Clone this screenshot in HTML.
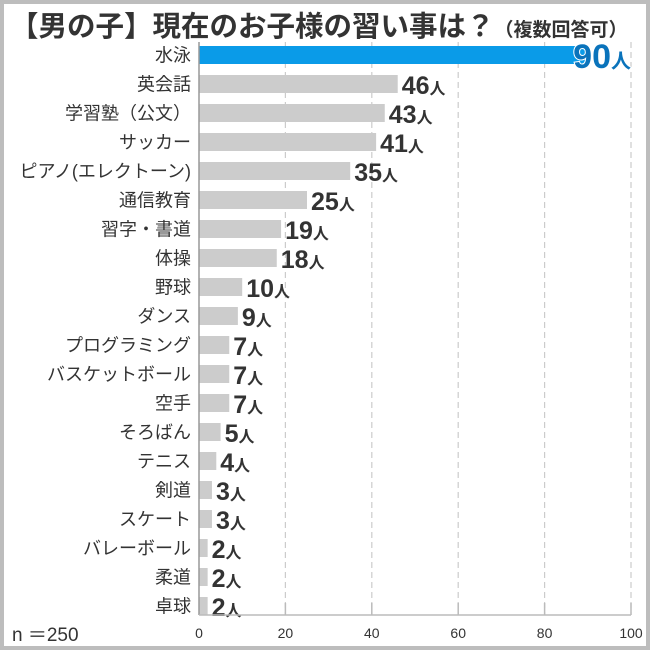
<!DOCTYPE html>
<html><head><meta charset="utf-8"><style>
body{margin:0;background:#fff;}
#wrap{position:relative;width:650px;height:650px;box-sizing:border-box;border:4px solid #bdbdbd;background:#fff;font-family:"Liberation Sans","Noto Sans CJK JP",sans-serif;overflow:hidden;}
#title{position:absolute;left:6px;top:0px;font-size:28.5px;font-weight:bold;color:#333;white-space:nowrap;letter-spacing:0px}
#title small{font-size:19px}
#n{position:absolute;left:8px;top:616px;font-size:19px;color:#333}
</style></head><body>
<div id="wrap">
<div id="title">【男の子】現在のお子様の習い事は？<small>（複数回答可）</small></div>
<svg id="chart" width="642" height="642" style="position:absolute;left:0;top:0"></svg>
<div id="n">n ＝250</div>
</div>
<script>
const categories=["水泳","英会話","学習塾（公文）","サッカー","ピアノ(エレクトーン)","通信教育","習字・書道","体操","野球","ダンス","プログラミング","バスケットボール","空手","そろばん","テニス","剣道","スケート","バレーボール","柔道","卓球"];
const values=[90,46,43,41,35,25,19,18,10,9,7,7,7,5,4,3,3,2,2,2];
const ticks=[0,20,40,60,80,100];
const ox=-4,oy=-4;
const x0=199,x1=631;
const xs=v=>x0+(v/100)*(x1-x0)+ox;
const yc=i=>55+i*29+oy;
const svg=document.getElementById('chart');
const NS='http://www.w3.org/2000/svg';
function mk(t,a,p){const e=document.createElementNS(NS,t);for(const k in a)e.setAttribute(k,a[k]);(p||svg).appendChild(e);return e;}
ticks.forEach(t=>{
 if(t>0){const g=mk('line',{x1:xs(t),x2:xs(t),y1:42+oy,y2:615+oy,stroke:'#ccc','stroke-dasharray':'6,4','stroke-width':1.2});
 
 
 mk('line',{x1:xs(t),x2:xs(t),y1:603+oy,y2:615+oy,stroke:'#bbb','stroke-width':1.5});}
 const l=mk('text',{x:xs(t),y:638+oy,'text-anchor':'middle','font-size':14,fill:'#333'});
 l.textContent=t;
 
 
});
categories.forEach((c,i)=>{
 const v=values[i];const y=yc(i);
 const b=mk('rect',{x:xs(0),y:y-9,width:xs(v)-xs(0),height:18,fill:i===0?'#0a9be8':'#cccccc'});
 
 
 const t=mk('text',{x:191+ox,y:y+6.5,'text-anchor':'end','font-size':18,fill:'#333'});
 t.textContent=c;
 
 
 const vl=mk('text',{'font-weight':'bold',fill:i===0?'#0a73bb':'#333'});
 if(i===0){vl.setAttribute('x',x1+ox);vl.setAttribute('text-anchor','end');vl.setAttribute('stroke','#fff');vl.setAttribute('stroke-width','2');vl.setAttribute('paint-order','stroke');vl.setAttribute('y',y+13);vl.setAttribute('font-size',34);}
 else{vl.setAttribute('x',xs(v)+4);vl.setAttribute('y',y+10);vl.setAttribute('font-size',25);}
 
 
 const s1=mk('tspan',{},vl);s1.textContent=v;
 const s2=mk('tspan',{'font-size':i===0?20:16},vl);s2.textContent='人';
});
const ax=mk('line',{x1:xs(0),x2:xs(0),y1:42+oy,y2:615+oy,stroke:'#999','stroke-width':1.5});


const bx=mk('line',{x1:xs(0),x2:xs(100),y1:615+oy,y2:615+oy,stroke:'#bbb','stroke-width':1.5});


</script>
</body></html>
